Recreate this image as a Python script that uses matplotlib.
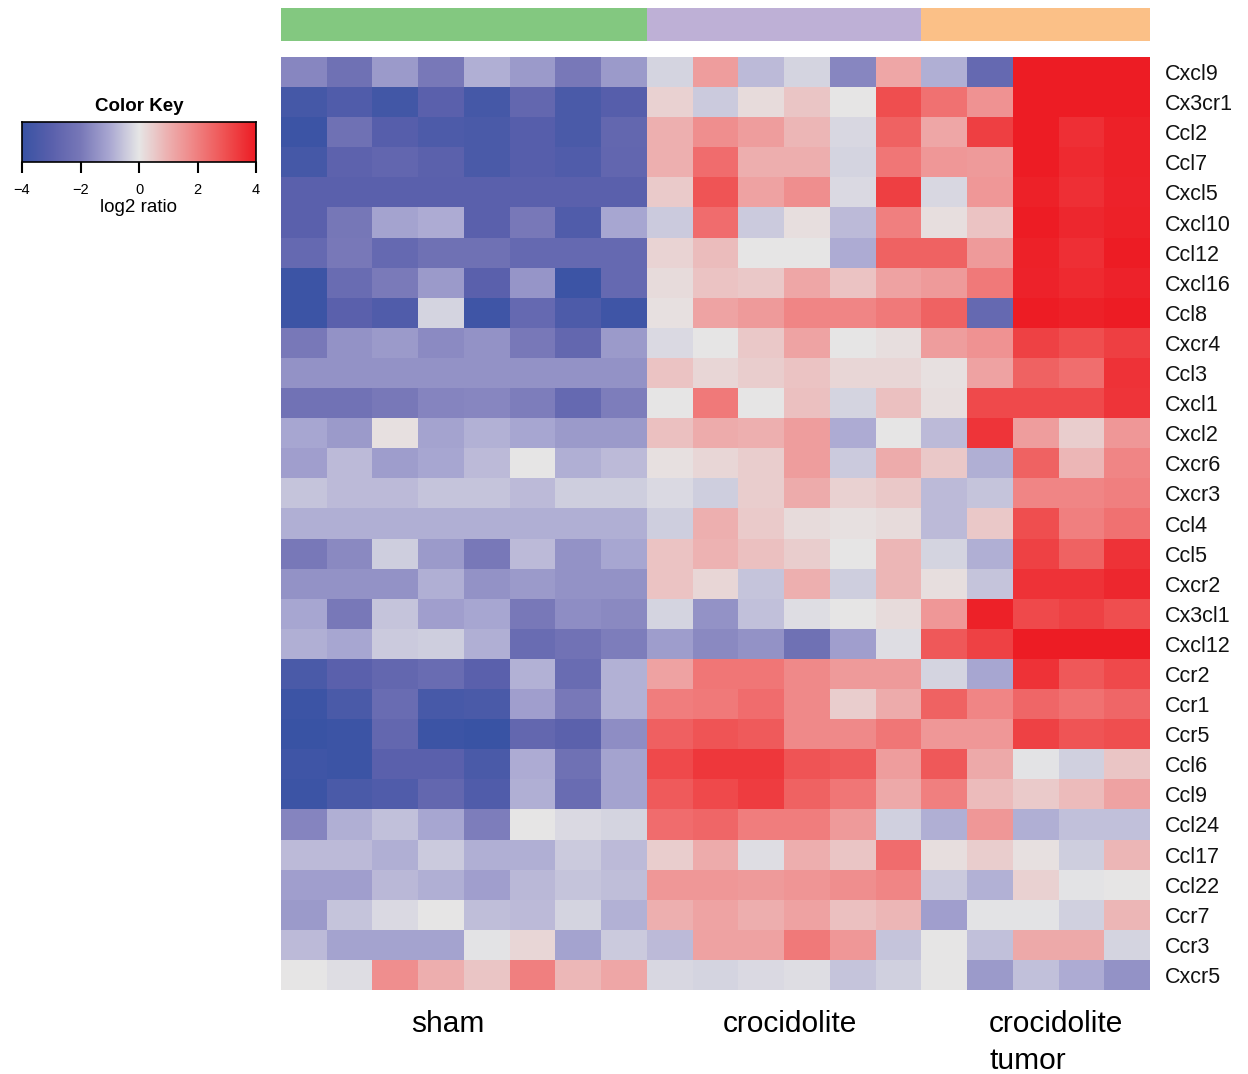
import numpy as np
import matplotlib
matplotlib.use('Agg')
import matplotlib.pyplot as plt
from matplotlib.colors import LinearSegmentedColormap, Normalize

plt.rcParams['font.family'] = ['Liberation Sans', 'DejaVu Sans']

# genes (rows, top to bottom)
genes = ['Cxcl9', 'Cx3cr1', 'Ccl2', 'Ccl7', 'Cxcl5', 'Cxcl10', 'Ccl12', 'Cxcl16', 'Ccl8',
         'Cxcr4', 'Ccl3', 'Cxcl1', 'Cxcl2', 'Cxcr6', 'Cxcr3', 'Ccl4', 'Ccl5', 'Cxcr2',
         'Cx3cl1', 'Cxcl12', 'Ccr2', 'Ccr1', 'Ccr5', 'Ccl6', 'Ccl9', 'Ccl24', 'Ccl17',
         'Ccl22', 'Ccr7', 'Ccr3', 'Cxcr5']

groups = ['sham', 'crocidolite', 'crocidolite\ntumor']
group_sizes = [8, 6, 5]
group_colors = ['#83C880', '#BEB0D6', '#FBC087']

# log2 ratios, 8 sham samples per gene
sham = [
    [-1.7, -2.3, -1.3, -2.0, -0.9, -1.3, -2.0, -1.3],
    [-3.6, -3.3, -3.7, -3.0, -3.6, -2.7, -3.5, -3.1],
    [-3.9, -2.3, -3.1, -3.4, -3.5, -3.1, -3.5, -2.7],
    [-3.6, -2.9, -2.75, -2.95, -3.5, -3.1, -3.3, -2.75],
    [-3.0, -3.0, -3.0, -3.0, -3.0, -3.0, -3.0, -3.0],
    [-3.0, -2.05, -1.1, -0.95, -3.0, -2.0, -3.3, -1.05],
    [-2.6, -2.0, -2.6, -2.3, -2.3, -2.6, -2.6, -2.6],
    [-3.9, -2.5, -1.95, -1.3, -3.0, -1.4, -3.9, -2.6],
    [-3.9, -3.0, -3.3, -0.3, -3.8, -2.6, -3.4, -3.8],
    [-2.0, -1.45, -1.3, -1.6, -1.45, -2.0, -2.7, -1.3],
    [-1.45, -1.45, -1.45, -1.45, -1.45, -1.45, -1.45, -1.45],
    [-2.25, -2.25, -2.0, -1.75, -1.7, -1.9, -2.6, -1.9],
    [-1.05, -1.3, 0.1, -1.1, -0.85, -1.05, -1.3, -1.3],
    [-1.2, -0.7, -1.25, -1.05, -0.7, 0.0, -0.9, -0.7],
    [-0.55, -0.7, -0.7, -0.55, -0.55, -0.7, -0.4, -0.4],
    [-0.9, -0.9, -0.9, -0.9, -0.9, -0.9, -0.9, -0.9],
    [-2.0, -1.65, -0.4, -1.3, -2.0, -0.7, -1.45, -1.05],
    [-1.45, -1.45, -1.45, -0.9, -1.45, -1.3, -1.45, -1.45],
    [-1.05, -2.0, -0.55, -1.2, -1.05, -2.0, -1.55, -1.65],
    [-0.9, -1.05, -0.45, -0.4, -0.9, -2.5, -2.25, -1.9],
    [-3.5, -3.0, -2.7, -2.5, -3.0, -0.85, -2.5, -0.85],
    [-3.9, -3.5, -2.5, -3.55, -3.5, -1.2, -2.0, -0.85],
    [-4.0, -3.9, -2.7, -3.9, -4.0, -2.7, -2.95, -1.55],
    [-3.8, -3.9, -3.0, -3.0, -3.5, -0.95, -2.3, -1.1],
    [-3.9, -3.5, -3.3, -2.7, -3.3, -0.9, -2.5, -1.1],
    [-1.75, -0.9, -0.6, -1.05, -1.9, 0.02, -0.2, -0.3],
    [-0.7, -0.7, -0.9, -0.45, -0.9, -0.9, -0.45, -0.7],
    [-1.2, -1.2, -0.75, -0.9, -1.2, -0.75, -0.55, -0.65],
    [-1.3, -0.55, -0.2, 0.0, -0.65, -0.7, -0.3, -0.85],
    [-0.7, -1.1, -1.1, -1.1, -0.05, 0.3, -1.1, -0.45],
    [0.0, -0.15, 1.7, 1.05, 0.6, 2.0, 0.85, 1.2],
]

# 6 crocidolite samples per gene
croc = [
    [-0.3, 1.4, -0.7, -0.3, -1.7, 1.2],
    [0.4, -0.45, 0.2, 0.6, 0.0, 3.0],
    [1.0, 1.7, 1.4, 0.9, -0.25, 2.6],
    [1.0, 2.4, 1.05, 1.05, -0.3, 2.2],
    [0.5, 2.9, 1.3, 1.7, -0.2, 3.3],
    [-0.45, 2.4, -0.45, 0.15, -0.7, 2.0],
    [0.35, 0.75, 0.0, 0.02, -0.95, 2.6],
    [0.2, 0.65, 0.55, 1.2, 0.65, 1.3],
    [0.1, 1.25, 1.45, 1.9, 1.9, 2.15],
    [-0.2, 0.0, 0.55, 1.25, 0.02, 0.15],
    [0.65, 0.3, 0.45, 0.65, 0.3, 0.3],
    [0.0, 2.15, 0.0, 0.7, -0.3, 0.7],
    [0.7, 1.1, 1.0, 1.4, -0.95, 0.0],
    [0.1, 0.3, 0.45, 1.4, -0.45, 1.1],
    [-0.2, -0.4, 0.45, 1.1, 0.4, 0.55],
    [-0.4, 1.0, 0.5, 0.2, 0.1, 0.2],
    [0.65, 0.95, 0.7, 0.45, 0.0, 0.9],
    [0.65, 0.3, -0.55, 1.0, -0.4, 0.9],
    [-0.3, -1.45, -0.6, -0.15, 0.0, 0.2],
    [-1.25, -1.65, -1.45, -2.3, -1.2, -0.15],
    [1.3, 2.2, 2.2, 1.8, 1.45, 1.45],
    [2.05, 2.15, 2.4, 1.8, 0.45, 1.1],
    [2.65, 2.9, 2.75, 1.8, 1.8, 2.2],
    [3.1, 3.45, 3.45, 2.9, 2.75, 1.4],
    [2.75, 3.1, 3.35, 2.6, 2.2, 1.15],
    [2.4, 2.5, 2.05, 2.05, 1.45, -0.35],
    [0.45, 1.1, -0.15, 1.05, 0.6, 2.4],
    [1.5, 1.5, 1.45, 1.55, 1.7, 1.9],
    [1.0, 1.25, 1.05, 1.3, 0.7, 0.9],
    [-0.7, 1.3, 1.3, 2.15, 1.5, -0.55],
    [-0.25, -0.3, -0.2, -0.15, -0.55, -0.35],
]

# 5 crocidolite tumor samples per gene
tumor = [
    [-0.9, -2.6, 4.0, 4.0, 4.0],
    [2.3, 1.6, 4.0, 4.0, 4.0],
    [1.2, 3.3, 4.0, 3.6, 3.9],
    [1.5, 1.45, 4.0, 3.7, 3.9],
    [-0.25, 1.5, 3.9, 3.6, 3.85],
    [0.15, 0.65, 4.0, 3.75, 3.9],
    [2.6, 1.45, 3.9, 3.6, 4.0],
    [1.45, 2.15, 3.85, 3.7, 3.85],
    [2.6, -2.6, 4.0, 3.9, 4.0],
    [1.4, 1.6, 3.25, 3.0, 3.3],
    [0.1, 1.3, 2.6, 2.35, 3.55],
    [0.15, 3.1, 3.1, 3.1, 3.5],
    [-0.7, 3.5, 1.4, 0.45, 1.5],
    [0.55, -0.9, 2.6, 0.9, 1.9],
    [-0.7, -0.55, 1.9, 1.9, 2.0],
    [-0.7, 0.55, 3.0, 2.0, 2.3],
    [-0.3, -0.9, 3.25, 2.6, 3.55],
    [0.15, -0.55, 3.55, 3.55, 3.75],
    [1.5, 3.9, 3.1, 3.25, 3.0],
    [2.8, 3.25, 4.0, 4.0, 4.0],
    [-0.3, -1.05, 3.55, 2.8, 3.1],
    [2.6, 1.9, 2.5, 2.3, 2.5],
    [1.5, 1.5, 3.25, 2.9, 3.0],
    [2.8, 1.15, -0.05, -0.35, 0.6],
    [2.0, 0.8, 0.5, 0.8, 1.3],
    [-0.9, 1.5, -0.9, -0.6, -0.6],
    [0.15, 0.45, 0.1, -0.4, 0.9],
    [-0.45, -0.85, 0.4, -0.05, 0.0],
    [-1.2, -0.05, -0.05, -0.35, 0.9],
    [0.0, -0.6, 1.15, 1.15, -0.3],
    [0.0, -1.3, -0.6, -0.95, -1.45],
]

data = np.hstack([np.array(sham), np.array(croc), np.array(tumor)])
n_rows, n_cols = data.shape

cmap = LinearSegmentedColormap.from_list('key', [
    (0.0, '#3953A4'), (0.125, '#5A60AC'), (0.25, '#7878B8'), (0.375, '#AAA8D2'),
    (0.5, '#E6E6E6'), (0.625, '#EDB0B0'), (0.75, '#F08080'), (0.875, '#EF4F50'),
    (1.0, '#ED1C24')])
norm = Normalize(vmin=-4, vmax=4)

fig = plt.figure(figsize=(12.48, 10.74), dpi=100)

# main heatmap
ax = fig.add_axes([281 / 1248, 1 - 990 / 1074, 869 / 1248, 933 / 1074])
ax.pcolormesh(np.arange(n_cols + 1), np.arange(n_rows + 1), data, cmap=cmap, norm=norm)
ax.set_xlim(0, n_cols)
ax.set_ylim(n_rows, 0)
ax.set_xticks([])
ax.set_yticks([])
for s in ax.spines.values():
    s.set_visible(False)

for i, g in enumerate(genes):
    ax.text(n_cols + 0.33, i + 0.5, g, ha='left', va='center_baseline', fontsize=15.5,
            color='#111111')

# group colour bar on top
gax = fig.add_axes([281 / 1248, 1 - 41 / 1074, 869 / 1248, 33 / 1074])
start = 0
for size, c in zip(group_sizes, group_colors):
    gax.barh(0, size, left=start, height=1, color=c, edgecolor='none')
    start += size
gax.set_xlim(0, n_cols)
gax.set_ylim(-0.5, 0.5)
gax.axis('off')

# group labels below
fig.text(448 / 1248, 1 - 1024 / 1074, groups[0], ha='center', va='center', fontsize=21.5)
fig.text(790 / 1248, 1 - 1024 / 1074, groups[1], ha='center', va='center', fontsize=21.5)
fig.text(989 / 1248, 1 - 1024 / 1074, 'crocidolite', ha='left', va='center', fontsize=21.5)
fig.text(989 / 1248, 1 - 1061 / 1074, 'tumor', ha='left', va='center', fontsize=21.5)

# colour key
cax = fig.add_axes([22 / 1248, 1 - 162 / 1074, 234 / 1248, 40 / 1074])
grad = np.linspace(-4, 4, 256)[None, :]
cax.imshow(grad, aspect='auto', cmap=cmap, norm=norm, extent=[-4, 4, 0, 1])
cax.set_yticks([])
cax.set_xticks([-4, -2, 0, 2, 4])
cax.set_xticklabels(['\u22124', '\u22122', '0', '2', '4'], fontsize=10.5)
cax.tick_params(axis='x', length=8, width=1.5, pad=7)
for s in cax.spines.values():
    s.set_linewidth(1.2)
cax.set_title('Color Key', fontsize=13.5, fontweight='bold', pad=8)
fig.text(139 / 1248, 1 - 208 / 1074, 'log2 ratio', ha='center', va='center', fontsize=13.5)

fig.savefig('out.png', dpi=100)
